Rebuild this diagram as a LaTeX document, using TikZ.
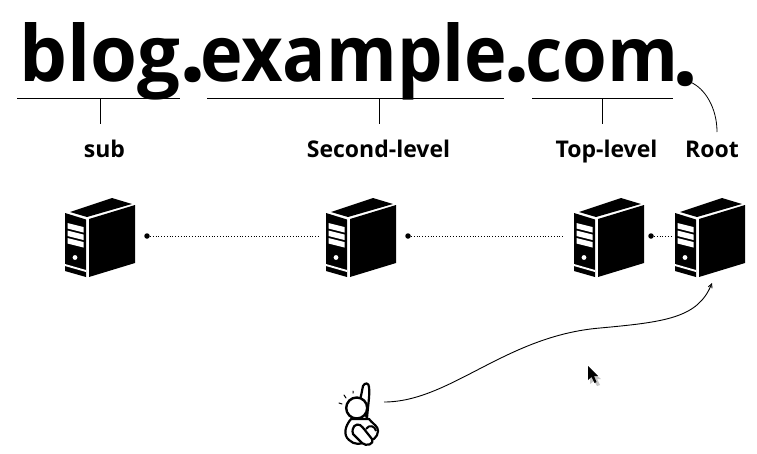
\documentclass[tikz,border=0pt]{standalone}
\usepackage{fontspec}
\setmainfont{Open Sans}
\usetikzlibrary{arrows.meta}
\tikzset{
  x=1pt,y=-1pt,
  title/.style={inner sep=0pt,anchor=base west,font=\fontsize{77}{80}\selectfont\bfseries},
  lab/.style={inner sep=0pt,anchor=base,font=\fontsize{23}{26}\selectfont\bfseries},
  rulel/.style={line width=0.8pt},
  dotn/.style={circle,fill=black,inner sep=0pt,minimum size=5.5pt},
  dotl/.style={line width=0.8pt,dotted,line cap=butt},
  figline/.style={line width=2.2pt,fill=white,line join=round,line cap=round},
  server/.pic={
    \fill (0,0) -- (21,6.5) -- (21,64) -- (0,58) -- cycle;
    \fill (24,6) -- (70,-8) -- (70,50) -- (24,64) -- cycle;
    \fill (5,-1) -- (47,-15) -- (67,-9) -- (22,4) -- cycle;
    \fill[white] (2.5,10) -- (18.5,14) -- (18.5,19.5) -- (2.5,15.5) -- cycle;
    \fill[white] (2.5,17.5) -- (18.5,21.5) -- (18.5,27) -- (2.5,23) -- cycle;
    \fill[white] (2.5,25) -- (18.5,29) -- (18.5,34.5) -- (2.5,30.5) -- cycle;
    \fill[white] (10,44.5) circle (2.4);
    \fill[white] (0,51) -- (21,57) -- (21,59) -- (0,53) -- cycle;
  }
}
\begin{document}
\begin{tikzpicture}
\useasboundingbox (0,0) rectangle (757,453);
% title: one text, with each part scaled and placed
\node[title] (t) at (19,81) {\resizebox{161pt}{59pt}{blog}\kern-0.8pt\resizebox{27pt}{!}{.}\kern-6.2pt\resizebox{307pt}{59pt}{example}\kern-3.5pt\resizebox{27pt}{!}{.}\kern-5.5pt\resizebox{153pt}{42pt}{com}\kern-5.5pt\raisebox{-4.3pt}{\resizebox{26pt}{!}{.}}};
\coordinate (rootdot) at (690,82);
% brackets
\coordinate (a1) at (17,98); \coordinate (a2) at (180,98);
\coordinate (b1) at (207,98); \coordinate (b2) at (504,98);
\coordinate (c1) at (532,98); \coordinate (c2) at (673,98);
\coordinate (am) at (100,98); \coordinate (bm) at (379,98); \coordinate (cm) at (602,98);
\coordinate (am2) at (100,124); \coordinate (bm2) at (379,124); \coordinate (cm2) at (602,124);
\coordinate (rootend) at (717,132);
\node[lab] (subl) at (104.5,157) {sub};
\node[lab] (secl) at (378.5,157) {Second-level};
\node[lab] (topl) at (606.5,157) {Top-level};
\node[lab] (rootl) at (712,157) {Root};
\draw[rulel] (a1) -- (a2);
\draw[rulel] (b1) -- (b2);
\draw[rulel] (c1) -- (c2);
\draw[rulel] (am) -- (am2);
\draw[rulel] (bm) -- (bm2);
\draw[rulel] (cm) -- (cm2);
\draw[rulel] (rootdot) .. controls (705,88) and (717,108) .. (rootend);
% servers
\pic at (65,213) {server};
\pic at (326,213) {server};
\pic at (574,213) {server};
\pic at (675,213) {server};
% dots
\node[dotn] (d1) at (147,236) {};
\node[dotn] (d2) at (408,236) {};
\node[dotn] (d3) at (651,236) {};
\coordinate (e1) at (318,236); \coordinate (e2) at (563,236); \coordinate (e3) at (671,236);
\draw[dotl] (d1) -- (e1);
\draw[dotl] (d2) -- (e2);
\draw[dotl] (d3) -- (e3);
% curve
\coordinate (s) at (384,402);
\coordinate (e) at (712,283);
\draw[line width=0.9pt,-{Straight Barb[length=4pt,width=4pt]}] (s) .. controls (450,402) and (505,336) .. (600,328)
   .. controls (665,322) and (698,318) .. (e);
% person
\draw[figline] (360,400) .. controls (362,392) and (362,390) .. (363,386) .. controls (365,382) and (369,383) .. (369,387) .. controls (370,395) and (368,405) .. (367,418) -- cycle;
\draw[figline] (351,419) .. controls (345,426) and (343,435) .. (349,440) .. controls (354,445) and (362,445) .. (366,441) .. controls (372,442) and (378,437) .. (378,431) .. controls (378,426) and (374,425) .. (369,419) -- cycle;
\draw[figline] (353,434) .. controls (351,427) and (356,423) .. (360,425) .. controls (363,427) and (367,433) .. (372,439) .. controls (375,444) and (366,447) .. (362,443) -- cycle;
\draw[line width=2pt] (366,429) .. controls (369,424) and (375,426) .. (376,431);
\draw[line width=2.4pt,fill=white] (356.7,408) circle (10.5);
\draw[line width=1pt,line cap=round] (339,403) -- (342,404) (344,395) -- (346,398) (353,391) -- (353,393);
% cursor
\fill[gray!45] (590,370) -- (590,384) -- (594,381) -- (597,386) -- (600,385) -- (597,379) -- (601,379) -- cycle;
\fill (588,366) -- (588,380) -- (591.5,377) -- (594.5,383) -- (596.5,382) -- (594,376) -- (598,376) -- cycle;
\end{tikzpicture}
\end{document}
